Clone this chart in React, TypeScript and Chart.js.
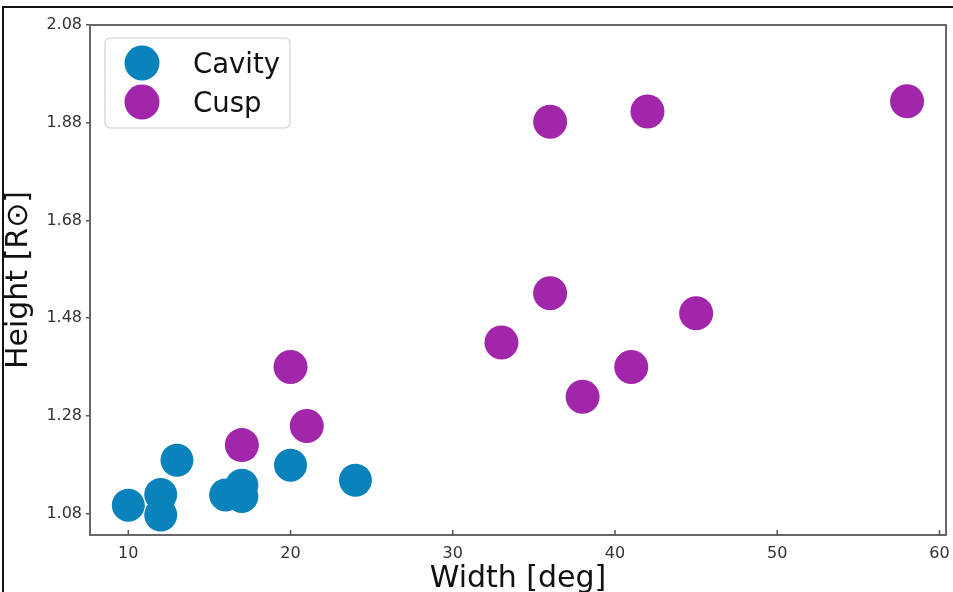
import React, { useEffect, useRef } from 'react';
import { Chart, registerables } from 'chart.js';

Chart.register(...registerables);

const seriesLabels = ['Cavity', 'Cusp'];
const seriesColors = ['#0a82bb', '#a226aa'];

const cavityWidth = [10, 12, 12, 13, 16, 17, 17, 20, 24];
const cavityHeight = [1.097, 1.119, 1.077, 1.189, 1.118, 1.138, 1.115, 1.179, 1.148];

const cuspWidth = [17, 21, 20, 33, 36, 36, 42, 58, 38, 41, 45];
const cuspHeight = [1.22, 1.259, 1.38, 1.43, 1.531, 1.882, 1.903, 1.924, 1.319, 1.38, 1.49];

const xTicks = [10, 20, 30, 40, 50, 60];
const yTicks = [1.08, 1.28, 1.48, 1.68, 1.88, 2.08];
const xRange = [7.64, 60.4];
const yRange = [1.036, 2.08];

const xTitle = 'Width [deg]';
const yTitle = 'Height [R\u2299]';

const FONT = "'DejaVu Sans', sans-serif";

const framePlugin = {
  id: 'frame',
  afterDatasetsDraw(chart: any) {
    const { ctx, chartArea: a, scales } = chart;
    ctx.save();
    ctx.strokeStyle = '#666';
    ctx.lineWidth = 2;
    ctx.strokeRect(a.left, a.top, a.right - a.left, a.bottom - a.top);
    ctx.lineWidth = 1.5;
    ctx.strokeStyle = '#555';
    ctx.beginPath();
    for (const t of scales.x.ticks) {
      const px = scales.x.getPixelForValue(t.value);
      ctx.moveTo(px, a.bottom);
      ctx.lineTo(px, a.bottom - 5);
    }
    ctx.stroke();
    ctx.restore();
  },
};

function roundRectPath(ctx: CanvasRenderingContext2D, x: number, y: number, w: number, h: number, r: number) {
  ctx.beginPath();
  ctx.moveTo(x + r, y);
  ctx.arcTo(x + w, y, x + w, y + h, r);
  ctx.arcTo(x + w, y + h, x, y + h, r);
  ctx.arcTo(x, y + h, x, y, r);
  ctx.arcTo(x, y, x + w, y, r);
  ctx.closePath();
}

const legendPlugin = {
  id: 'boxLegend',
  afterDraw(chart: any) {
    const { ctx, chartArea: a } = chart;
    const bx = a.left + 15;
    const by = a.top + 13;
    const bw = 185;
    const bh = 90;
    ctx.save();
    roundRectPath(ctx, bx, by, bw, bh, 5);
    ctx.fillStyle = 'rgba(255,255,255,0.85)';
    ctx.fill();
    ctx.strokeStyle = '#d0d0d0';
    ctx.lineWidth = 1.2;
    ctx.stroke();
    chart.data.datasets.forEach((ds: any, i: number) => {
      const cy = by + 25 + i * 39;
      ctx.beginPath();
      ctx.arc(bx + 37, cy, 17.5, 0, Math.PI * 2);
      ctx.fillStyle = ds.backgroundColor;
      ctx.fill();
      ctx.fillStyle = '#111';
      ctx.font = `27.5px ${FONT}`;
      ctx.textBaseline = 'alphabetic';
      ctx.textAlign = 'left';
      ctx.fillText(ds.label, bx + 88, cy + 9.7);
    });
    ctx.restore();
  },
};

const noPadding = () => ({ left: 0, top: 0, right: 0, bottom: 0 });

export default function App() {
  const ref = useRef<HTMLCanvasElement | null>(null);

  useEffect(() => {
    if (!ref.current) return;
    const chart = new Chart(ref.current, {
      type: 'scatter',
      data: {
        datasets: [
          {
            label: seriesLabels[0],
            data: cavityWidth.map((x, i) => ({ x, y: cavityHeight[i] })),
            backgroundColor: seriesColors[0],
            borderWidth: 0,
            pointRadius: 16.5,
            pointHoverRadius: 16.5,
          },
          {
            label: seriesLabels[1],
            data: cuspWidth.map((x, i) => ({ x, y: cuspHeight[i] })),
            backgroundColor: seriesColors[1],
            borderWidth: 0,
            pointRadius: 17,
            pointHoverRadius: 17,
          },
        ],
      },
      options: {
        animation: false,
        responsive: false,
        events: [],
        layout: { padding: { top: 25, right: 17, left: 0, bottom: 0 } },
        plugins: { legend: { display: false }, tooltip: { enabled: false } },
        scales: {
          x: {
            type: 'linear',
            min: xRange[0],
            max: xRange[1],
            afterBuildTicks: (s: any) => {
              s.ticks = xTicks.map((v) => ({ value: v }));
            },
            afterFit: (s: any) => {
              s.height = 65;
              s.paddingLeft = 0;
              s.paddingRight = 0;
              s.getPadding = noPadding;
            },
            grid: { display: false },
            border: { display: false },
            ticks: {
              font: { family: FONT, size: 16 },
              color: '#333',
              padding: 1,
              maxRotation: 0,
              callback: (v: any) => String(v),
            },
            title: {
              display: true,
              text: xTitle,
              color: '#111',
              font: { family: FONT, size: 30, lineHeight: 1.2 },
              padding: { top: 0, bottom: 3 },
            },
          },
          y: {
            type: 'linear',
            min: yRange[0],
            max: yRange[1],
            afterBuildTicks: (s: any) => {
              s.ticks = yTicks.map((v) => ({ value: v }));
            },
            afterFit: (s: any) => {
              s.width = 90;
              s.paddingTop = 0;
              s.paddingBottom = 0;
              s.getPadding = noPadding;
            },
            grid: {
              display: true,
              drawOnChartArea: false,
              drawTicks: true,
              tickLength: 4,
              color: '#555',
              lineWidth: 1.5,
            },
            border: { display: false },
            ticks: {
              font: { family: FONT, size: 16 },
              color: '#333',
              padding: 4,
              callback: (v: any) => Number(v).toFixed(2),
            },
            title: {
              display: true,
              text: yTitle,
              color: '#111',
              font: { family: FONT, size: 30, lineHeight: 1.1 },
              padding: { top: 3, bottom: 0 },
            },
          },
        },
      },
      plugins: [framePlugin, legendPlugin],
    });
    return () => chart.destroy();
  }, []);

  return (
    <div
      style={{
        position: 'absolute',
        left: 0,
        top: 0,
        width: 953,
        height: 592,
        overflow: 'hidden',
        background: '#fff',
      }}
    >
      <canvas
        ref={ref}
        width={963}
        height={600}
        style={{ position: 'absolute', left: 0, top: 0, width: 963, height: 600 }}
      />
      <div
        style={{
          position: 'absolute',
          left: 2,
          top: 6,
          width: 2000,
          height: 2000,
          borderTop: '2px solid #111',
          borderLeft: '2px solid #111',
        }}
      />
    </div>
  );
}
